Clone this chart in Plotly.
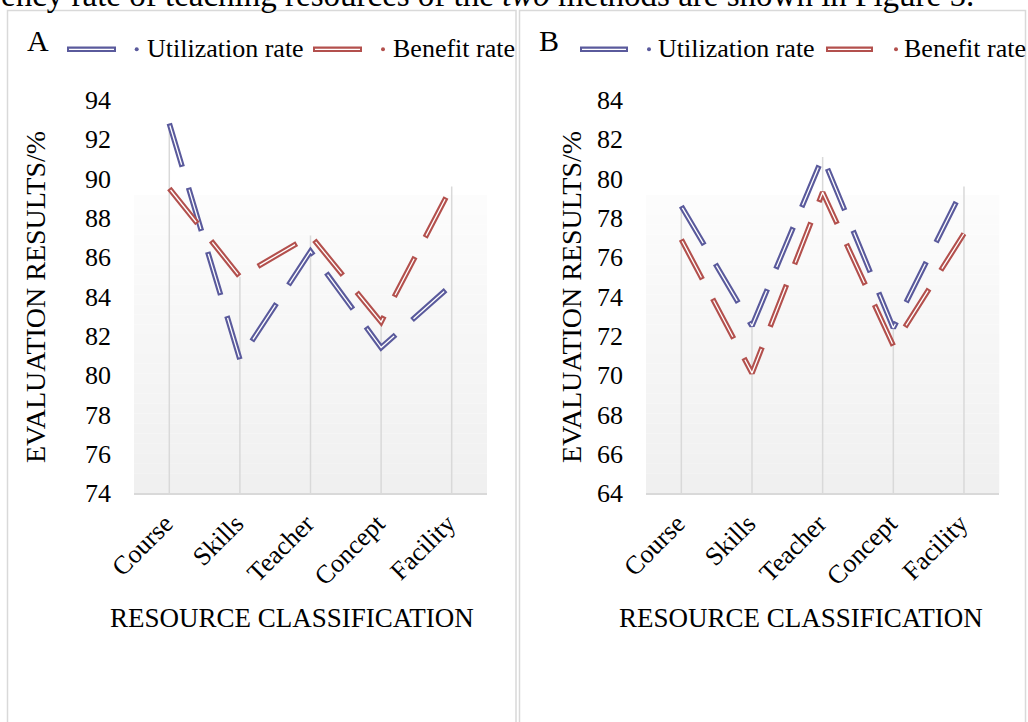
import plotly.graph_objects as go

# ---------------- data ----------------
categories = ["Course", "Skills", "Teacher", "Concept", "Facility"]
util_A = [92.8, 80.8, 86.3, 81.4, 84.6]
benefit_A = [89.5, 85.0, 87.1, 82.7, 89.6]
util_B = [78.6, 72.5, 81.1, 72.4, 79.6]
benefit_B = [76.9, 70.1, 79.3, 71.5, 77.2]
y_range_A = [74, 94]
y_range_B = [64, 84]
series_names = ["Utilization rate", "Benefit rate"]
panel_labels = ["A", "B"]
y_title = "EVALUATION RESULTS/%"
x_title = "RESOURCE CLASSIFICATION"
top_text = "ency rate of teaching resources of the <i>two</i> methods are shown in Figure 5."

# ---------------- style ----------------
W, H = 1028, 722
FONT = "Liberation Serif, Times New Roman, serif"
BLUE = "#5a5a9c"
RED = "#b3504d"
GRID = "#d9d9d9"
DASH_OUT = "45px,22px"
DASH_IN = "0px,2px,41px,24px"


def px(x):
    return x / W


def py(y):
    return 1 - y / H


fig = go.Figure()

panels = [
    dict(util=util_A, ben=benefit_A, yr=y_range_A, xa="x", ya="y", x0=134, x1=487),
    dict(util=util_B, ben=benefit_B, yr=y_range_B, xa="x2", ya="y2", x0=646, x1=999.3),
]

for p in panels:
    # drop lines
    dx, dy = [], []
    for c, u, b in zip(categories, p["util"], p["ben"]):
        dx += [c, c, None]
        dy += [p["yr"][0], max(u, b), None]
    fig.add_trace(go.Scatter(x=dx, y=dy, mode="lines", xaxis=p["xa"], yaxis=p["ya"],
                             line=dict(color=GRID, width=1.5), hoverinfo="skip", showlegend=False))
    for vals, col, name in [(p["util"], BLUE, series_names[0]), (p["ben"], RED, series_names[1])]:
        fig.add_trace(go.Scatter(x=categories, y=vals, mode="lines", name=name,
                                 xaxis=p["xa"], yaxis=p["ya"],
                                 line=dict(color=col, width=5.5, dash=DASH_OUT), showlegend=False))
        fig.add_trace(go.Scatter(x=categories, y=vals, mode="lines", name=name,
                                 xaxis=p["xa"], yaxis=p["ya"], hoverinfo="skip",
                                 line=dict(color="white", width=1.3, dash=DASH_IN), showlegend=False))

axis_font = dict(family=FONT, size=26, color="black")
common_x = dict(type="category", range=[-0.5, 4.5], showgrid=False, showline=True,
                linecolor=GRID, linewidth=2, ticks="", tickangle=-45, tickfont=axis_font,
                zeroline=False, ticklabelstandoff=3, ticklabelshift=-4, automargin=False)
common_y = dict(dtick=2, showgrid=False, showline=False, zeroline=False, ticks="",
                tickfont=axis_font, ticklabelstandoff=22, automargin=False)

ydom = [py(493), py(100)]
fig.update_layout(
    template="none",
    width=W, height=H, margin=dict(l=0, r=0, t=0, b=0, pad=0), autosize=False,
    paper_bgcolor="white", plot_bgcolor="rgba(0,0,0,0)",
    font=dict(family=FONT, color="black"),
    showlegend=False,
    xaxis=dict(domain=[px(134), px(487)], anchor="y", **common_x),
    yaxis=dict(domain=ydom, range=y_range_A, anchor="x", **common_y),
    xaxis2=dict(domain=[px(646), px(999.3)], anchor="y2", **common_x),
    yaxis2=dict(domain=ydom, range=y_range_B, anchor="x2", **common_y),
)

shapes = []
# gradient plot backgrounds
nb = 30
for p in panels:
    top, bot = 195.0, 493.0
    for i in range(nb):
        t = i / (nb - 1)
        g = int(round(252 - t * (252 - 240)))
        ya0 = top + (bot - top) * i / nb
        ya1 = top + (bot - top) * (i + 1) / nb
        shapes.append(dict(type="rect", xref="paper", yref="paper", layer="below",
                           x0=px(p["x0"]), x1=px(p["x1"]), y0=py(ya1), y1=py(ya0),
                           fillcolor=f"rgb({g},{g},{g})", line=dict(width=0)))
# panel frames
for fx0, fx1 in [(7.5, 516), (519.5, 1025.5)]:
    shapes.append(dict(type="rect", xref="paper", yref="paper", layer="below",
                       x0=px(fx0), x1=px(fx1), y0=py(760), y1=py(10.5),
                       line=dict(color=GRID, width=1.5), fillcolor="rgba(0,0,0,0)"))

annotations = []
legend_specs = [
    (38, [(67, 116, 136.7, 145, BLUE), (313, 362, 383, 391, RED)]),
    (549, [(580, 628, 649, 656, BLUE), (826, 873, 896, 902, RED)]),
]
LY = 49.3
for (lab_x, items), lab in zip(legend_specs, panel_labels):
    annotations.append(dict(text=lab, x=px(lab_x), y=py(40), xref="paper", yref="paper",
                            showarrow=False, xanchor="center", yanchor="middle",
                            font=dict(family=FONT, size=30, color="black")))
    for (lx0, lx1, dotx, tx, col), name in zip(items, series_names):
        shapes.append(dict(type="line", xref="paper", yref="paper", x0=px(lx0), x1=px(lx1),
                           y0=py(LY), y1=py(LY), line=dict(color=col, width=5.5)))
        shapes.append(dict(type="line", xref="paper", yref="paper", x0=px(lx0 + 2), x1=px(lx1 - 2),
                           y0=py(LY), y1=py(LY), line=dict(color="white", width=1.3)))
        shapes.append(dict(type="circle", xref="paper", yref="paper", x0=px(dotx - 2), x1=px(dotx + 2),
                           y0=py(LY + 2), y1=py(LY - 2), fillcolor=col, line=dict(width=0)))
        annotations.append(dict(text=name, x=px(tx), y=py(48), xref="paper", yref="paper",
                                showarrow=False, xanchor="left", yanchor="middle",
                                font=dict(family=FONT, size=26, color="black")))

for yx, xx in [(36, 291.5), (572, 801)]:
    annotations.append(dict(text=y_title, x=px(yx), y=py(297), xref="paper", yref="paper",
                            showarrow=False, textangle=-90, xanchor="center", yanchor="middle",
                            font=dict(family=FONT, size=28, color="black")))
    annotations.append(dict(text=x_title, x=px(xx), y=py(618), xref="paper", yref="paper",
                            showarrow=False, xanchor="center", yanchor="middle",
                            font=dict(family=FONT, size=27, color="black")))

annotations.append(dict(text=top_text, x=px(-1), y=py(-5), xref="paper", yref="paper",
                        showarrow=False, xanchor="left", yanchor="middle",
                        font=dict(family=FONT, size=33, color="black")))

fig.update_layout(shapes=shapes, annotations=annotations)

fig.write_html("out.html", config={"displayModeBar": False},
               post_script="document.body.style.margin='0';document.body.style.overflow='hidden';")
